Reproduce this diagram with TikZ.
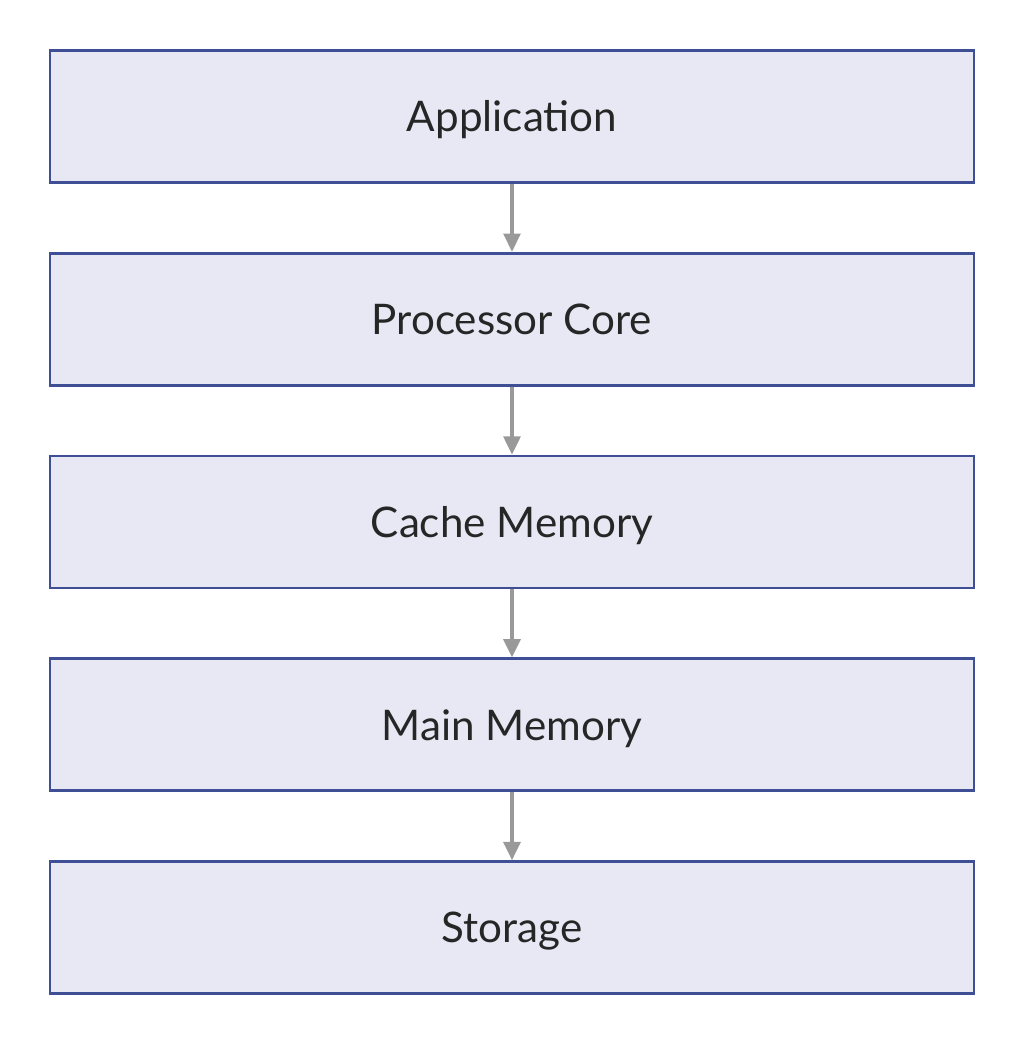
\documentclass[tikz,border=0pt]{standalone}
\usepackage{fontspec}
\setmainfont{Lato}
\usetikzlibrary{positioning,arrows.meta}
\definecolor{boxfill}{HTML}{E8E8F5}
\definecolor{boxline}{HTML}{3F4F95}
\definecolor{arrowgray}{HTML}{999999}
\tikzset{
  layer/.style = {draw = boxline, line width = 2pt, fill = boxfill,
    minimum width = 23.1cm, minimum height = 3.3cm, text depth = 0pt,
    font = \fontsize{30}{36}\selectfont, text = black!85},
  flow/.style = {draw = arrowgray, line width = 2.4pt,
    -{Triangle[length = 13pt, width = 12pt]}}
}
\begin{document}
\begin{tikzpicture}[node distance = 1.7cm]
\useasboundingbox (0,0) rectangle (25.65,-26.225);
\node [layer] (app) at (12.8,-2.91) {Application};
\node [layer, below = of app] (core) {Processor Core};
\node [layer, below = of core] (cache) {Cache Memory};
\node [layer, below = of cache] (mainmem) {Main Memory};
\node [layer, below = of mainmem] (storage) {Storage};

\draw [flow] (app) -- (core);
\draw [flow] (core) -- (cache);
\draw [flow] (cache) -- (mainmem);
\draw [flow] (mainmem) -- (storage);
\end{tikzpicture}
\end{document}
